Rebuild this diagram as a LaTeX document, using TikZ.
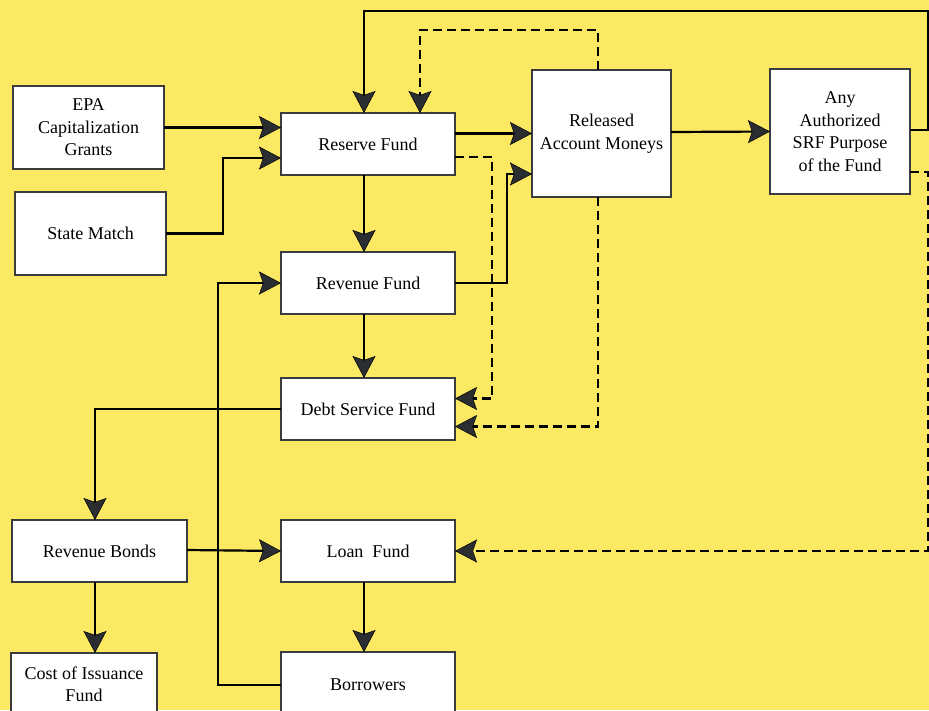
\documentclass[tikz,border=0pt]{standalone}
\usepackage{fontspec}
\setmainfont{Liberation Serif}
\usepackage{tikz}
\usetikzlibrary{positioning}
\usetikzlibrary{arrows.meta}
\usetikzlibrary{calc}
\definecolor{bgyellow}{HTML}{FCE963}
\definecolor{boxline}{HTML}{3A3C3E}
\definecolor{tipgray}{HTML}{2B2E30}

\begin{document}
\begin{tikzpicture}[x=1pt, y=-1pt,
        fund/.style={rectangle, draw=boxline, fill=white, line width=1.8pt, inner sep=0pt, outer sep=0pt,
            minimum width=174pt, minimum height=62pt, align=center,
            font=\fontsize{18}{22.5}\selectfont},
        flow/.style={line width=2.2pt, draw=black, -{Stealth[length=22pt, width=23pt, inset=4pt, fill=tipgray, line width=0.5pt]}},
        dflow/.style={flow, dash pattern=on 9pt off 5pt}]
            \fill[bgyellow] (0,0) rectangle (929,710);
            \useasboundingbox (0,0) rectangle (929,710);

            \node[fund]  (reserve)  at (368,144) {Reserve Fund};
            \node[fund]  (revenue) [below=77pt of reserve] {Revenue Fund};
            \node[fund]  (debt) [below=64pt of revenue] {Debt Service Fund};
            \node[fund]  (loan) [below=80pt of debt] {Loan\ \ Fund};
            \node[fund, minimum height=66pt]  (borrowers) [below=70pt of loan] {Borrowers};

            \node[fund, minimum width=151pt, minimum height=83pt]  (epa)  at (88.5,127.5) {EPA\\Capitalization\\Grants};
            \node[fund, minimum width=151pt, minimum height=83pt]  (state)  at (90.5,233.5) {State Match};
            \node[fund, minimum width=139pt, minimum height=127pt]  (released)  at (601.5,133.5) {Released\\Account Moneys};
            \node[fund, minimum width=140pt, minimum height=125pt]  (any)  at (840,131.5) {Any\\Authorized\\SRF Purpose\\of the Fund};
            \node[fund, minimum width=175pt]  (bonds)  at (99.5,551) {Revenue Bonds};
            \node[fund, minimum width=146pt, minimum height=62pt]  (cost)  at (84,684) {Cost of Issuance\\Fund};

            \draw[flow] (epa.east) -- (reserve.west |- epa.east);
            \draw[flow] (state.east) -- ++(57,0) |- ($(reserve.west)+(0,14)$);
            \draw[flow] ($(any.east)+(0,-1.5)$) -- ++(18,0) |- ($(reserve.north)+(-4,-102)$) -- ($(reserve.north)+(-4,0)$);
            \draw[dflow] ($(released.north)+(-3.5,0)$) -- ++(0,-40) -| ($(reserve.north)+(52,0)$);
            \draw[flow] ($(reserve.east)+(0,-10.5)$) -- (released.west);
            \draw[dflow] ($(reserve.east)+(0,13)$) -- ++(37,0) |- ($(debt.east)+(0,-10.5)$);
            \draw[flow] (revenue.east) -- ++(52,0) |- ($(released.west)+(0,40.5)$);
            \draw[dflow] ($(released.south)+(-3.5,0)$) |- ($(debt.east)+(0,17.5)$);
            \draw[flow] ($(released.east)+(0,-1.5)$) -- (any.west);
            \draw[dflow] ($(any.east)+(0,40.5)$) -- ++(18,0) |- (loan.east);

            \draw[flow] ($(reserve.south)+(-4,0)$) -- ($(revenue.north)+(-4,0)$);
            \draw[flow] ($(revenue.south)+(-4,0)$) -- ($(debt.north)+(-4,0)$);
            \draw[flow] (debt.west) -| ($(bonds.north)+(-4.5,0)$);
            \draw[flow] ($(bonds.east)+(0,-1)$) -- (loan.west);
            \draw[flow] ($(bonds.south)+(-4.5,0)$) -- ($(bonds.south |- cost.north)+(-4.5,0)$);
            \draw[flow] ($(loan.south)+(-4,0)$) -- ($(borrowers.north)+(-4,0)$);
            \draw[flow] (borrowers.west) -- ++(-63,0) |- (revenue.west);
        \end{tikzpicture}
\end{document}
